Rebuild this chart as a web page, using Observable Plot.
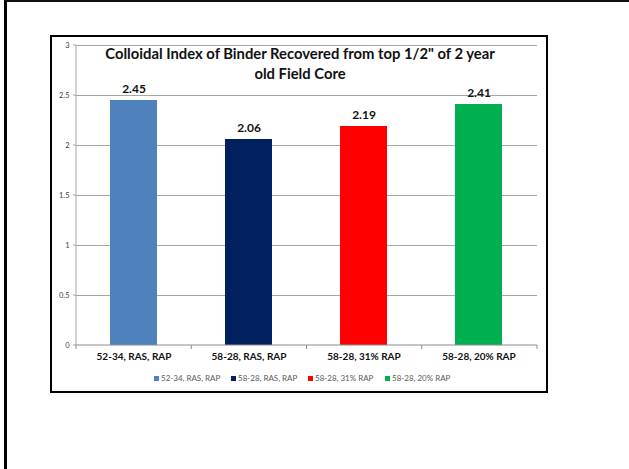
<!DOCTYPE html>
<html>
<head>
<meta charset="utf-8">
<script src="https://cdn.jsdelivr.net/npm/d3@7"></script>
<script src="https://cdn.jsdelivr.net/npm/@observablehq/plot@0.6"></script>
<style>
  html, body { margin: 0; padding: 0; background: #fff; }
  body { width: 629px; height: 469px; position: relative; overflow: hidden; font-family: Lato, "Liberation Sans", sans-serif; }
  #slide { position: absolute; left: 4px; top: 0; width: 700px; height: 467px; border-left: 3px solid #000; border-top: 2px solid #111; border-bottom: 1px solid #808080; }
  #box { position: absolute; left: 50px; top: 35px; width: 498px; height: 358px; box-sizing: border-box; border: 2px solid #000; background: #fff; }
  #chart { position: absolute; left: 52px; top: 37px; }
  #title { position: absolute; left: 80px; width: 440px; top: 43px; text-align: center; font-weight: bold; font-size: 14.8px; line-height: 20px; color: #111; }
  #legend { position: absolute; left: 154px; top: 373px; display: flex; font-size: 8px; color: #595959; }
  #legend .item { width: 77px; display: flex; align-items: center; white-space: nowrap; }
  #legend .sw { width: 5px; height: 5px; margin-right: 2px; flex: none; }
</style>
</head>
<body>
<div id="slide"></div>
<div id="box"></div>
<div id="chart"></div>
<div id="title">Colloidal Index of Binder Recovered from top 1/2" of 2 year<br>old Field Core</div>
<div id="legend"></div>
<script>
// Colloidal index per binder / RAP mix
const categories = ["52-34, RAS, RAP", "58-28, RAS, RAP", "58-28, 31% RAP", "58-28, 20% RAP"];
const values = [2.45, 2.06, 2.19, 2.41];
const colors = ["#4F81BD", "#002060", "#FF0000", "#00B050"];
const yTicks = [0, 0.5, 1, 1.5, 2, 2.5, 3];
const yTickLabels = ["0", "0.5", "1", "1.5", "2", "2.5", "3"];

const rows = categories.map((c, i) => ({category: c, value: values[i]}));
const gridColor = "#a6a6a6";

// Axis lines plus category boundary ticks, spaced from the band scale
const axisLines = (index, scales, values, dims) => {
  const svg = d3.create("svg:g");
  const x0 = dims.marginLeft, x1 = dims.width - dims.marginRight;
  const yBase = scales.y(0), yTop = scales.y(3);
  svg.append("line").attr("x1", x0).attr("x2", x0).attr("y1", yTop).attr("y2", yBase)
    .attr("stroke", gridColor);
  svg.append("line").attr("x1", x0).attr("x2", x1).attr("y1", yBase).attr("y2", yBase)
    .attr("stroke", "#8c8c8c");
  const n = categories.length;
  const step = (x1 - x0) / n;
  d3.range(n + 1).forEach(i => {
    const xx = x0 + i * step;
    svg.append("line").attr("x1", xx).attr("x2", xx).attr("y1", yBase).attr("y2", yBase + 4)
      .attr("stroke", "#8c8c8c");
  });
  yTicks.forEach(t => {
    svg.append("line").attr("x1", x0 - 3).attr("x2", x0).attr("y1", scales.y(t)).attr("y2", scales.y(t))
      .attr("stroke", gridColor);
  });
  return svg.node();
};

const plot = Plot.plot({
  width: 494,
  height: 330,
  marginLeft: 24,
  marginRight: 9,
  marginTop: 8,
  marginBottom: 22,
  x: {domain: categories, paddingInner: 0.59, paddingOuter: 0.295, axis: null},
  y: {domain: [0, 3], axis: null},
  color: {domain: categories, range: colors},
  style: {fontFamily: "Lato, 'Liberation Sans', sans-serif", background: "transparent", overflow: "visible"},
  marks: [
    Plot.ruleY(yTicks.filter(t => t > 0), {stroke: gridColor, strokeWidth: 1}),
    Plot.barY(rows, {x: "category", y: "value", fill: "category"}),
    axisLines,
    Plot.text(rows, {x: "category", y: "value", text: d => d.value.toFixed(2), dy: -11,
      fontWeight: "bold", fontSize: 12, fill: "#111"}),
    Plot.text(yTicks, {y: d => d, text: (d, i) => yTickLabels[i], frameAnchor: "left", dx: -7,
      textAnchor: "end", fontSize: 7.5, fill: "#404040"}),
    Plot.text(categories, {x: d => d, text: d => d, frameAnchor: "bottom", dy: 14,
      fontWeight: "bold", fontSize: 10, fill: "#111"})
  ]
});
document.getElementById("chart").appendChild(plot);

const legend = d3.select("#legend");
categories.forEach((c, i) => {
  const item = legend.append("div").attr("class", "item");
  item.append("div").attr("class", "sw").style("background", colors[i]);
  item.append("span").text(c);
});
</script>
</body>
</html>
